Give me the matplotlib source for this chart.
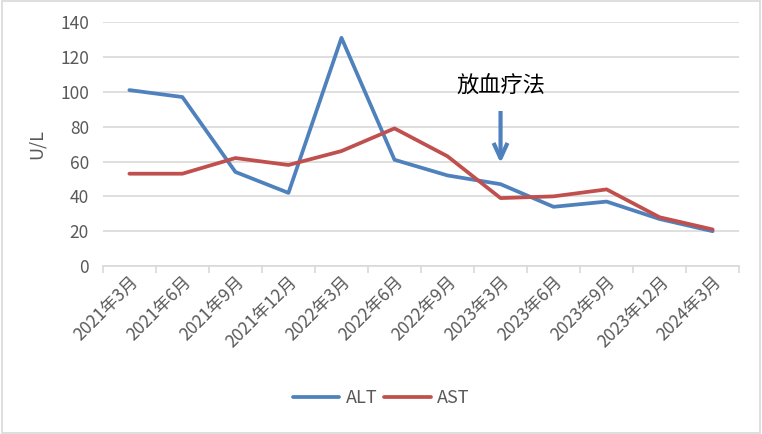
import matplotlib
matplotlib.use("Agg")
import matplotlib.pyplot as plt
from matplotlib.patches import Rectangle

plt.rcParams['font.family'] = ['Noto Sans CJK SC', 'DejaVu Sans']

categories = ["2021年3月", "2021年6月", "2021年9月", "2021年12月", "2022年3月", "2022年6月",
              "2022年9月", "2023年3月", "2023年6月", "2023年9月", "2023年12月", "2024年3月"]
alt = [101, 97, 54, 42, 131, 61, 52, 47, 34, 37, 27, 20]
ast = [53, 53, 62, 58, 66, 79, 63, 39, 40, 44, 28, 21]
yticks = [0, 20, 40, 60, 80, 100, 120, 140]

fig = plt.figure(figsize=(7.62, 4.34), dpi=100)
ax = fig.add_axes([0.135, 0.387, 0.835, 0.562])

x = list(range(len(categories)))
ax.plot(x, alt, color='#4F81BD', lw=2.7, label='ALT', solid_joinstyle='round', solid_capstyle='round')
ax.plot(x, ast, color='#C0504D', lw=2.7, label='AST', solid_joinstyle='round', solid_capstyle='round')

ax.set_xlim(-0.5, len(categories) - 0.5)
ax.set_ylim(0, 140)
ax.set_yticks(yticks)
ax.grid(axis='y', color='#D9D9D9', lw=1.2)
ax.set_axisbelow(True)
for s in ['top', 'right', 'left']:
    ax.spines[s].set_visible(False)
ax.spines['bottom'].set_color('#D9D9D9')
ax.spines['bottom'].set_linewidth(1.2)

ax.set_xticks([i - 0.5 for i in range(len(categories) + 1)], minor=False)
ax.set_xticklabels([])
ax.tick_params(axis='x', which='major', length=5, color='#D9D9D9', width=1.2)
ax.set_xticks(x, minor=True)
ax.set_xticklabels(categories, minor=True, rotation=45, ha='right', rotation_mode='anchor',
                   fontsize=12.5, color='#595959')
ax.tick_params(axis='x', which='minor', length=0, pad=5)
ax.tick_params(axis='y', length=0, labelsize=12.5, labelcolor='#595959', pad=10)
ax.set_ylabel('U/L', fontsize=13, color='#595959', labelpad=10)

ax.annotate('', xy=(7, 59), xytext=(7, 89),
            arrowprops=dict(arrowstyle='->,head_length=1.1,head_width=0.5', color='#4F81BD',
                            lw=3, shrinkA=0, shrinkB=0, capstyle='butt', joinstyle='round'))
ax.text(7, 103, '放血疗法', ha='center', va='center', fontsize=16, color='black')

fig.legend(loc='lower center', bbox_to_anchor=(0.5, 0.025), ncol=2, frameon=False,
           fontsize=13, labelcolor='#595959', handlelength=2.6, handletextpad=0.35,
           columnspacing=0.35)

fig.patches.append(Rectangle((0.002, 0.003), 0.996, 0.994, transform=fig.transFigure,
                             fill=False, edgecolor='#D9D9D9', lw=1.2))

fig.savefig('out.png', dpi=100)
